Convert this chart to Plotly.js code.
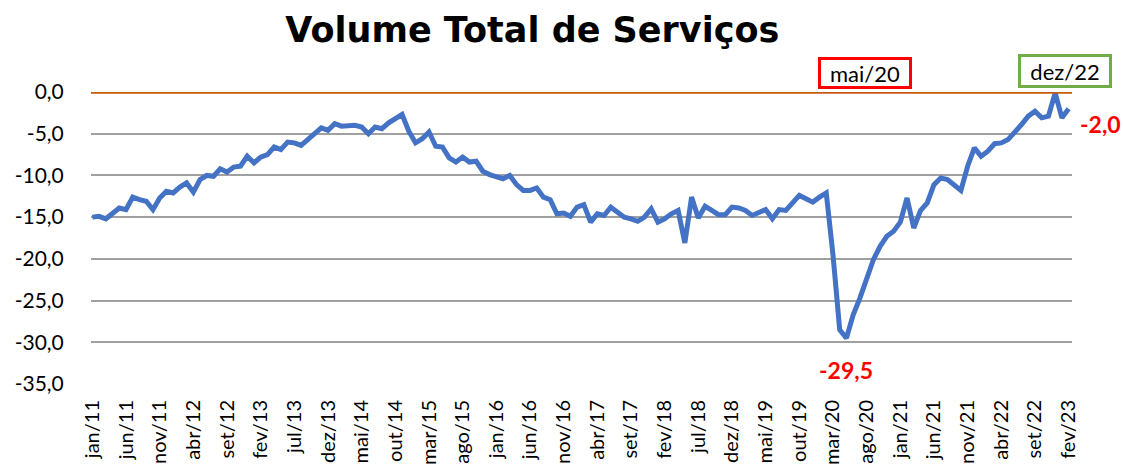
<!DOCTYPE html>
<html>
<head>
<meta charset="utf-8">
<script src="https://cdn.plot.ly/plotly-3.0.1.min.js"></script>
<style>html,body{margin:0;padding:0;background:#fff;}#chart{width:1123px;height:464px;}</style>
</head>
<body>
<div id="chart"></div>
<script>
const monthNames = ['jan','fev','mar','abr','mai','jun','jul','ago','set','out','nov','dez'];
const years = ['11','12','13','14','15','16','17','18','19','20','21','22','23'];

const v2011 = [-15.0,-14.9,-15.2,-14.5,-13.9,-14.1,-12.6,-12.9,-13.1,-14.1,-12.7,-11.9];
const v2012 = [-12.1,-11.4,-10.9,-12.0,-10.5,-10.0,-10.1,-9.2,-9.6,-9.0,-8.9,-7.7];
const v2013 = [-8.5,-7.8,-7.5,-6.6,-6.9,-6.0,-6.1,-6.4,-5.7,-5.1,-4.3,-4.6];
const v2014 = [-3.8,-4.1,-4.1,-4.0,-4.2,-5.0,-4.2,-4.4,-3.7,-3.2,-2.7,-4.7];
const v2015 = [-6.1,-5.6,-4.8,-6.5,-6.6,-7.9,-8.4,-7.8,-8.4,-8.3,-9.5,-9.9];
const v2016 = [-10.2,-10.4,-10.0,-11.1,-11.8,-11.8,-11.5,-12.6,-12.9,-14.6,-14.5,-14.9];
const v2017 = [-13.8,-13.5,-15.6,-14.6,-14.8,-13.8,-14.4,-15.0,-15.2,-15.5,-15.0,-14.0];
const v2018 = [-15.6,-15.2,-14.6,-14.2,-18.1,-12.6,-15.1,-13.7,-14.2,-14.7,-14.7,-13.8];
const v2019 = [-13.9,-14.2,-14.8,-14.4,-14.1,-15.2,-14.1,-14.2,-13.4,-12.4,-12.8,-13.2];
const v2020 = [-12.6,-12.1,-19.5,-28.5,-29.5,-26.7,-24.7,-22.5,-20.1,-18.5,-17.3,-16.7];
const v2021 = [-15.6,-12.7,-16.3,-14.2,-13.3,-11.1,-10.3,-10.5,-11.1,-11.8,-8.9,-6.7];
const v2022 = [-7.7,-7.1,-6.2,-6.1,-5.7,-4.9,-3.9,-2.9,-2.3,-3.1,-2.9,-0.1];
const v2023 = [-3.1,-2.0];

const xTickLabels = ['jan/11','jun/11','nov/11','abr/12','set/12','fev/13','jul/13','dez/13','mai/14','out/14',
  'mar/15','ago/15','jan/16','jun/16','nov/16','abr/17','set/17','fev/18','jul/18','dez/18',
  'mai/19','out/19','mar/20','ago/20','jan/21','jun/21','nov/21','abr/22','set/22','fev/23'];
const yTickValues = [0,-5,-10,-15,-20,-25,-30,-35];
const yTickLabels = ['0,0','-5,0','-10,0','-15,0','-20,0','-25,0','-30,0','-35,0'];

const minLabel = {month:'mai/20', value:-29.5, text:'-29,5'};
const lastLabel = {month:'fev/23', value:-2.0, text:'-2,0'};
const boxLabels = [{month:'mai/20', text:'mai/20'}, {month:'dez/22', text:'dez/22'}];

const yearly = [v2011,v2012,v2013,v2014,v2015,v2016,v2017,v2018,v2019,v2020,v2021,v2022,v2023];
const categories = [];
const values = [];
yearly.forEach((arr, yi) => {
  arr.forEach((v, mi) => { categories.push(monthNames[mi] + '/' + years[yi]); values.push(v); });
});

const trace = {
  x: categories, y: values, type: 'scatter', mode: 'lines',
  line: {color: '#4472C4', width: 5}, cliponaxis: false, hoverinfo: 'x+y'
};

const layout = {
  width: 1123, height: 464,
  margin: {l: 91, r: 51, t: 92, b: 80},
  paper_bgcolor: '#ffffff', plot_bgcolor: '#ffffff',
  showlegend: false,
  title: {text: '<b>Volume Total de Serviços</b>', font: {family: 'DejaVu Sans', size: 35, color: '#000'},
          x: 0.474, xanchor: 'center', xref: 'container', y: 0.935, yanchor: 'middle', yref: 'container'},
  xaxis: {
    type: 'category', categoryorder: 'array', categoryarray: categories,
    range: [-0.2, 145.5], tickmode: 'array', tickvals: xTickLabels, ticktext: xTickLabels,
    tickangle: -90, tickfont: {family: 'Lato', size: 20, color: '#000'},
    ticks: 'outside', ticklen: 7, tickcolor: 'rgba(0,0,0,0)',
    showgrid: false, zeroline: false, showline: false, fixedrange: true
  },
  yaxis: {
    range: [-35, 0], tickmode: 'array', tickvals: yTickValues, ticktext: yTickLabels,
    tickfont: {family: 'Lato', size: 21, color: '#000'},
    ticks: 'outside', ticklen: 22, tickcolor: 'rgba(0,0,0,0)',
    showgrid: true, gridcolor: '#A0A0A0', gridwidth: 2, zeroline: false, showline: false, fixedrange: true
  },
  shapes: [{type: 'line', xref: 'paper', x0: 0, x1: 1, yref: 'y', y0: 0, y1: 0,
            line: {color: '#C55A11', width: 3.5}}],
  annotations: [
    {x: minLabel.month, y: minLabel.value, text: '<b>' + minLabel.text + '</b>', showarrow: false,
     yshift: -32, xshift: 0, font: {family: 'Lato', size: 23, color: '#FF0000'}},
    {x: lastLabel.month, y: lastLabel.value, text: '<b>' + lastLabel.text + '</b>', showarrow: false,
     yshift: -15, xshift: 32, font: {family: 'Lato', size: 23, color: '#FF0000'}},
    {x: boxLabels[0].month, y: 1, yref: 'paper', yanchor: 'middle', yshift: 19, xshift: 19,
     text: boxLabels[0].text, showarrow: false, font: {family: 'Lato', size: 22, color: '#000'},
     bgcolor: '#fff', bordercolor: '#FF0000', borderwidth: 3, borderpad: 0, width: 88, height: 26},
    {x: boxLabels[1].month, y: 1, yref: 'paper', yanchor: 'middle', yshift: 21, xshift: 10,
     text: boxLabels[1].text, showarrow: false, font: {family: 'Lato', size: 22, color: '#000'},
     bgcolor: '#fff', bordercolor: '#70AD47', borderwidth: 3, borderpad: 0, width: 88, height: 28}
  ]
};

Plotly.newPlot('chart', [trace], layout, {displayModeBar: false, staticPlot: true});
</script>
</body>
</html>
